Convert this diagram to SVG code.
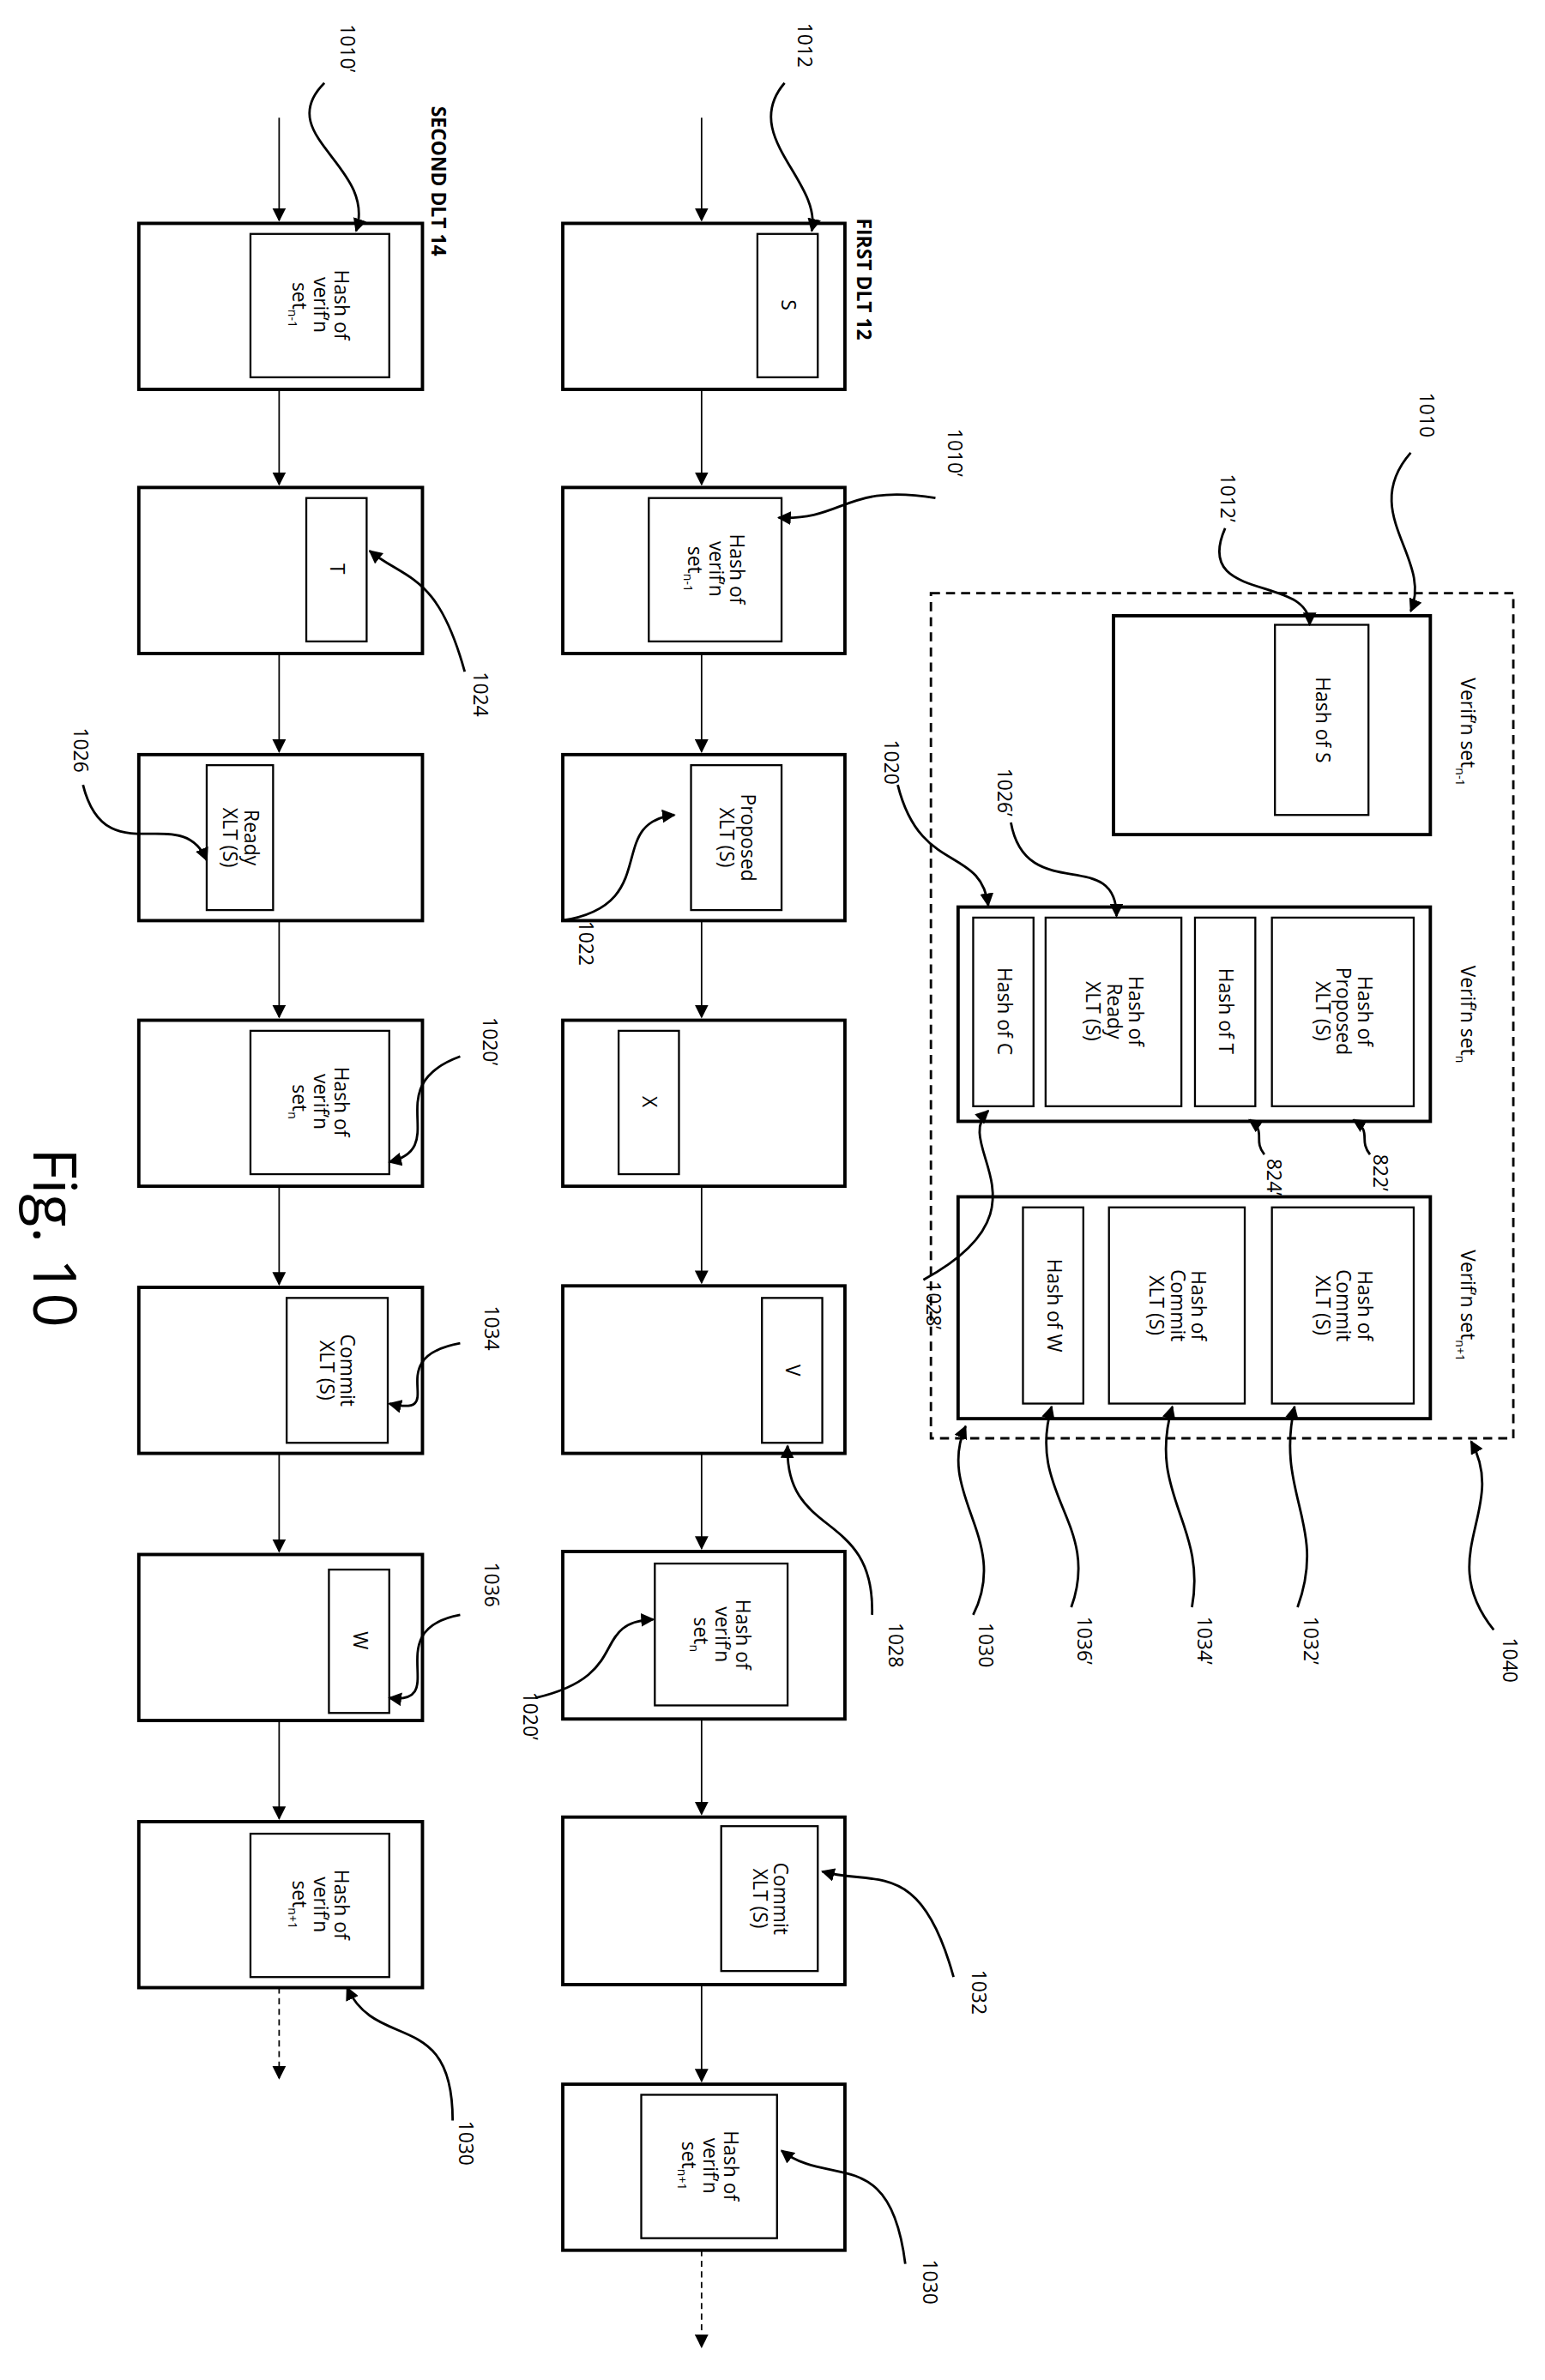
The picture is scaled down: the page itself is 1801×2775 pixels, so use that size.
<svg xmlns="http://www.w3.org/2000/svg" width="1801" height="2775" viewBox="0 0 1801 2775">
<style>
.o{fill:#fff;stroke:#000;stroke-width:2.2}
.i{fill:#fff;stroke:#000;stroke-width:1.3}
.d{fill:none;stroke:#000;stroke-width:1.6;stroke-dasharray:6,4}
.a{fill:none;stroke:#000;stroke-width:1;marker-end:url(#ah)}
.ad{fill:none;stroke:#000;stroke-width:1;stroke-dasharray:4,3;marker-end:url(#ah)}
.l{fill:none;stroke:#000;stroke-width:1.6;marker-end:url(#ah)}
text{font-family:"Open Sans","DejaVu Sans",sans-serif;font-size:13px;text-anchor:middle;fill:#000}
.s{font-size:8px}
.b{font-weight:bold}
</style>
<defs><marker id="ah" viewBox="0 0 10 10" refX="9" refY="5" markerWidth="9" markerHeight="9" orient="auto" markerUnits="userSpaceOnUse"><path d="M0,0 L10,5 L0,10 z"/></marker></defs>
<rect width="1801" height="2775" fill="#fff"/>
<g transform="scale(1.7588,1.7597)">
<g id="dlt2">
<rect class="o" x="92" y="148" width="188" height="110"/><rect class="i" x="166" y="155" width="92" height="95"/>
<rect class="o" x="92" y="323" width="188" height="110"/><rect class="i" x="203" y="330" width="40" height="95"/>
<rect class="o" x="92" y="500" width="188" height="110"/><rect class="i" x="137" y="507" width="44" height="96"/>
<rect class="o" x="92" y="676" width="188" height="110"/><rect class="i" x="166" y="683" width="92" height="95"/>
<rect class="o" x="92" y="853" width="188" height="110"/><rect class="i" x="190" y="860" width="67" height="96"/>
<rect class="o" x="92" y="1030" width="188" height="110"/><rect class="i" x="218" y="1040" width="40" height="95"/>
<rect class="o" x="92" y="1207" width="188" height="110"/><rect class="i" x="166" y="1215" width="92" height="95"/>
</g>
<g id="dlt1">
<rect class="o" x="373" y="148" width="187" height="110"/><rect class="i" x="502" y="155" width="40" height="95"/>
<rect class="o" x="373" y="323" width="187" height="110"/><rect class="i" x="430" y="330" width="88" height="95"/>
<rect class="o" x="373" y="500" width="187" height="110"/><rect class="i" x="458" y="507" width="60" height="96"/>
<rect class="o" x="373" y="676" width="187" height="110"/><rect class="i" x="410" y="683" width="40" height="95"/>
<rect class="o" x="373" y="852" width="187" height="111"/><rect class="i" x="505" y="860" width="40" height="96"/>
<rect class="o" x="373" y="1028" width="187" height="111"/><rect class="i" x="434" y="1036" width="88" height="94"/>
<rect class="o" x="373" y="1204" width="187" height="111"/><rect class="i" x="478" y="1210" width="64" height="96"/>
<rect class="o" x="373" y="1381" width="187" height="110"/><rect class="i" x="425" y="1388" width="90" height="95"/>
</g>
<g id="verif">
<rect class="d" x="617" y="393" width="386" height="560"/>
<rect class="o" x="738" y="408" width="210" height="145"/><rect class="i" x="845" y="414" width="62" height="126"/>
<rect class="o" x="635" y="601" width="313" height="142"/><rect class="i" x="645" y="608" width="40" height="125"/><rect class="i" x="693" y="608" width="90" height="125"/><rect class="i" x="792" y="608" width="40" height="125"/><rect class="i" x="843" y="608" width="94" height="125"/>
<rect class="o" x="635" y="793" width="313" height="147"/><rect class="i" x="678" y="800" width="40" height="130"/><rect class="i" x="735" y="800" width="90" height="130"/><rect class="i" x="843" y="800" width="94" height="130"/>
</g>
<g id="connectors">
<path class="a" d="M185,78 V146"/><path class="a" d="M185,258 V321"/><path class="a" d="M185,433 V498"/><path class="a" d="M185,610 V674"/><path class="a" d="M185,786 V851"/><path class="a" d="M185,963 V1028"/><path class="a" d="M185,1140 V1205"/><path class="ad" d="M185,1317 V1377"/>
<path class="a" d="M465,78 V146"/><path class="a" d="M465,258 V321"/><path class="a" d="M465,433 V498"/><path class="a" d="M465,610 V674"/><path class="a" d="M465,786 V850"/><path class="a" d="M465,963 V1026"/><path class="a" d="M465,1139 V1202"/><path class="a" d="M465,1315 V1379"/><path class="ad" d="M465,1491 V1555"/>
<path class="l" d="M215,55 C180,90 250,110 236,153"/>
<path class="l" d="M520,55 C490,90 545,120 538,153"/>
<path class="l" d="M620,330 C560,320 560,345 516,343"/>
<path class="l" d="M935,300 C900,340 950,370 935,405"/>
<path class="l" d="M812,350 C790,400 868,380 868,414"/>
<path class="l" d="M308,445 C290,380 270,385 245,365"/>
<path class="l" d="M55,520 C70,580 120,530 137,570"/>
<path class="l" d="M595,520 C610,580 650,560 655,600"/>
<path class="l" d="M670,545 C680,600 740,560 740,607"/>
<path class="l" d="M372,610 C440,600 400,545 447,540"/>
<path class="l" d="M305,700 C250,720 300,760 258,770"/>
<path class="l" d="M838,765 C830,755 840,750 828,742"/>
<path class="l" d="M908,765 C900,755 910,750 897,742"/>
<path class="l" d="M612,848 C700,800 630,760 655,736"/>
<path class="l" d="M305,890 C250,900 300,940 258,930"/>
<path class="l" d="M305,1070 C250,1080 300,1130 258,1125"/>
<path class="l" d="M578,1070 C580,1000 520,1020 522,958"/>
<path class="l" d="M645,1070 C670,1020 620,990 640,945"/>
<path class="l" d="M710,1065 C730,1010 680,990 697,932"/>
<path class="l" d="M790,1065 C800,1010 760,990 777,932"/>
<path class="l" d="M860,1065 C880,1010 845,990 858,932"/>
<path class="l" d="M990,1080 C950,1030 1000,1000 975,955"/>
<path class="l" d="M355,1125 C420,1110 390,1075 433,1073"/>
<path class="l" d="M632,1310 C610,1230 580,1250 545,1240"/>
<path class="l" d="M300,1405 C300,1330 250,1360 230,1317"/>
<path class="l" d="M600,1500 C590,1420 550,1450 518,1425"/>
</g>
<g id="texts">
<text transform="translate(222,202) rotate(90)">Hash of</text><text transform="translate(208,202) rotate(90)">verif’n</text><text transform="translate(194,202) rotate(90)">set<tspan class="s" dy="3">n-1</tspan></text>
<text transform="translate(219,377) rotate(90)">T</text>
<text transform="translate(162,555) rotate(90)">Ready</text><text transform="translate(148,555) rotate(90)">XLT (S)</text>
<text transform="translate(222,730) rotate(90)">Hash of</text><text transform="translate(208,730) rotate(90)">verif’n</text><text transform="translate(194,730) rotate(90)">set<tspan class="s" dy="3">n</tspan></text>
<text transform="translate(226,908) rotate(90)">Commit</text><text transform="translate(212,908) rotate(90)">XLT (S)</text>
<text transform="translate(234,1087) rotate(90)">W</text>
<text transform="translate(222,1262) rotate(90)">Hash of</text><text transform="translate(208,1262) rotate(90)">verif’n</text><text transform="translate(194,1262) rotate(90)">set<tspan class="s" dy="3">n+1</tspan></text>
<text transform="translate(518,202) rotate(90)">S</text>
<text transform="translate(484,377) rotate(90)">Hash of</text><text transform="translate(470,377) rotate(90)">verif’n</text><text transform="translate(456,377) rotate(90)">set<tspan class="s" dy="3">n-1</tspan></text>
<text transform="translate(491,555) rotate(90)">Proposed</text><text transform="translate(477,555) rotate(90)">XLT (S)</text>
<text transform="translate(426,730) rotate(90)">X</text>
<text transform="translate(521,908) rotate(90)">V</text>
<text transform="translate(488,1083) rotate(90)">Hash of</text><text transform="translate(474,1083) rotate(90)">verif’n</text><text transform="translate(460,1083) rotate(90)">set<tspan class="s" dy="3">n</tspan></text>
<text transform="translate(513,1258) rotate(90)">Commit</text><text transform="translate(499,1258) rotate(90)">XLT (S)</text>
<text transform="translate(480,1435) rotate(90)">Hash of</text><text transform="translate(466,1435) rotate(90)">verif’n</text><text transform="translate(452,1435) rotate(90)">set<tspan class="s" dy="3">n+1</tspan></text>
<text transform="translate(872,477) rotate(90)">Hash of S</text>
<text transform="translate(661,670) rotate(90)">Hash of C</text>
<text transform="translate(748,670) rotate(90)">Hash of</text><text transform="translate(734,670) rotate(90)">Ready</text><text transform="translate(720,670) rotate(90)">XLT (S)</text>
<text transform="translate(808,670) rotate(90)">Hash of T</text>
<text transform="translate(900,670) rotate(90)">Hash of</text><text transform="translate(886,670) rotate(90)">Proposed</text><text transform="translate(872,670) rotate(90)">XLT (S)</text>
<text transform="translate(694,865) rotate(90)">Hash of W</text>
<text transform="translate(790,865) rotate(90)">Hash of</text><text transform="translate(776,865) rotate(90)">Commit</text><text transform="translate(762,865) rotate(90)">XLT (S)</text>
<text transform="translate(900,865) rotate(90)">Hash of</text><text transform="translate(886,865) rotate(90)">Commit</text><text transform="translate(872,865) rotate(90)">XLT (S)</text>
<text transform="translate(968,485) rotate(90)">Verif’n set<tspan class="s" dy="3">n-1</tspan></text>
<text transform="translate(968,672) rotate(90)">Verif’n set<tspan class="s" dy="3">n</tspan></text>
<text transform="translate(968,865) rotate(90)">Verif’n set<tspan class="s" dy="3">n+1</tspan></text>
<text class="b" transform="translate(286,120) rotate(90)">SECOND DLT 14</text>
<text class="b" transform="translate(568,185) rotate(90)">FIRST DLT 12</text>
<text transform="translate(22,820) rotate(90)" style="font-size:40px">Fig. 10</text>
<text transform="translate(226,32) rotate(90)">1010’</text>
<text transform="translate(529,30) rotate(90)">1012</text>
<text transform="translate(628,300) rotate(90)">1010’</text>
<text transform="translate(941,275) rotate(90)">1010</text>
<text transform="translate(809,330) rotate(90)">1012’</text>
<text transform="translate(314,460) rotate(90)">1024</text>
<text transform="translate(49,497) rotate(90)">1026</text>
<text transform="translate(586,505) rotate(90)">1020</text>
<text transform="translate(661,525) rotate(90)">1026’</text>
<text transform="translate(384,625) rotate(90)">1022</text>
<text transform="translate(320,690) rotate(90)">1020’</text>
<text transform="translate(840,780) rotate(90)">824’</text>
<text transform="translate(910,777) rotate(90)">822’</text>
<text transform="translate(614,865) rotate(90)">1028’</text>
<text transform="translate(321,880) rotate(90)">1034</text>
<text transform="translate(321,1050) rotate(90)">1036</text>
<text transform="translate(589,1090) rotate(90)">1028</text>
<text transform="translate(649,1090) rotate(90)">1030</text>
<text transform="translate(714,1087) rotate(90)">1036’</text>
<text transform="translate(794,1087) rotate(90)">1034’</text>
<text transform="translate(864,1087) rotate(90)">1032’</text>
<text transform="translate(996,1100) rotate(90)">1040</text>
<text transform="translate(347,1137) rotate(90)">1020’</text>
<text transform="translate(644,1320) rotate(90)">1032</text>
<text transform="translate(304,1420) rotate(90)">1030</text>
<text transform="translate(612,1512) rotate(90)">1030</text>
</g>
</g>
</svg>
